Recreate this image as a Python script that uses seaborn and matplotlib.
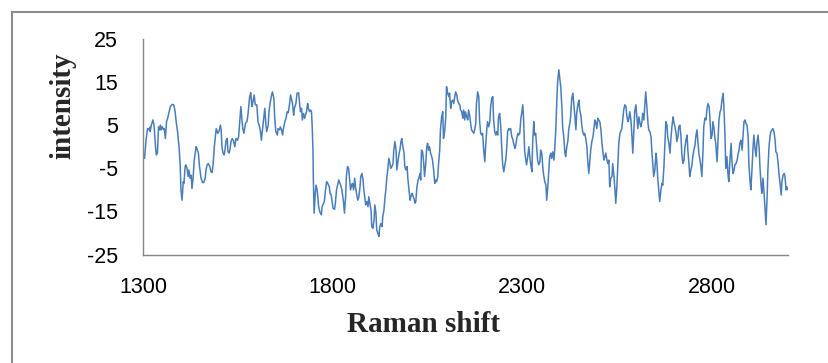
import matplotlib
matplotlib.use("Agg")
import matplotlib.pyplot as plt
import matplotlib.patches as patches
import seaborn as sns
import pandas as pd

# Raman spectrum, baseline-subtracted intensity vs. Raman shift (cm^-1)
shift_a = [1300, 1304, 1308, 1312, 1315, 1318, 1319, 1322, 1326, 1329,
           1333, 1335, 1338, 1341, 1344, 1346, 1348, 1351, 1354, 1356,
           1359, 1362, 1365, 1369, 1372, 1377, 1381, 1384, 1388, 1391,
           1395, 1398, 1400, 1403, 1406, 1408, 1411, 1413, 1416, 1419,
           1421, 1424, 1427, 1429, 1432, 1435, 1440, 1442, 1446, 1449,
           1453, 1457, 1460, 1464, 1466, 1469, 1472, 1476, 1479, 1482,
           1485, 1488, 1493, 1497, 1500, 1504, 1506, 1508, 1511, 1514,
           1516, 1519, 1522, 1524, 1527, 1529, 1532, 1535, 1538, 1542]
int_a = [-1.5, -2.7, 1.5, 4.2, 3.9, 4.5, 3.5, 5.0, 6.2, 5.0,
         0.0, -1.9, -1.5, 4.6, 3.9, 5.0, 3.9, 4.6, 4.0, 4.2,
         1.9, 5.8, 6.6, 8.1, 9.3, 9.8, 9.7, 8.5, 5.4, 3.5,
         0.0, -4.2, -10.0, -12.4, -8.1, -8.5, -4.6, -4.2, -5.0, -6.9,
         -5.4, -7.3, -6.6, -9.7, -7.3, -3.1, 0.0, -0.4, -1.5, -4.6,
         -7.3, -8.3, -8.3, -7.3, -5.4, -4.2, -3.9, -4.6, -5.8, -6.0,
         -3.9, 0.0, 4.2, 3.1, 3.5, 5.0, 3.9, 0.0, -1.5, -1.9,
         -0.8, 1.5, 1.9, -1.2, -1.5, -0.8, 1.2, 1.9, 1.5, 0.0]

shift_b = [1545, 1549, 1552, 1555, 1558, 1560, 1563, 1566, 1570, 1574,
           1577, 1581, 1584, 1587, 1589, 1593, 1596, 1600, 1603, 1606,
           1609, 1612, 1615, 1618, 1621, 1624, 1626, 1630, 1632, 1635,
           1638, 1641, 1645, 1647, 1650, 1654, 1656, 1660, 1662, 1665,
           1668, 1670, 1674, 1677, 1680, 1683, 1686, 1689, 1691, 1694,
           1697, 1699, 1703, 1706, 1710, 1712, 1715, 1718, 1720, 1723,
           1726, 1728, 1731, 1734, 1736, 1739, 1742, 1744, 1746, 1748,
           1749, 1751, 1754, 1756, 1759, 1763, 1766, 1770, 1772, 1776,
           1778, 1781, 1784, 1787]
int_b = [1.9, 1.5, 2.3, 5.8, 9.3, 6.9, 4.2, 3.1, 5.4, 5.8,
         7.7, 11.6, 12.5, 9.3, 10.0, 12.0, 9.7, 9.7, 5.8, 5.0,
         3.9, 1.5, 3.9, 6.2, 8.9, 5.0, 3.5, 5.0, 8.1, 10.0,
         11.6, 12.7, 11.2, 6.9, 3.5, 2.7, 4.2, 3.9, 4.6, 3.9,
         2.7, 4.2, 5.8, 6.6, 8.1, 7.9, 9.7, 12.0, 11.2, 10.0,
         7.3, 8.9, 10.0, 12.4, 12.5, 10.8, 8.1, 8.9, 6.2, 7.7,
         6.6, 7.3, 8.1, 10.0, 8.9, 8.1, 8.5, 8.1, 4.6, -0.8,
         -7.7, -15.4, -10.8, -8.9, -10.0, -13.9, -15.1, -15.8, -13.9, -13.1,
         -12.7, -10.0, -8.1, -8.5]

shift_c = [1791, 1793, 1796, 1799, 1801, 1805, 1807, 1810, 1814, 1816,
           1819, 1821, 1824, 1828, 1831, 1834, 1836, 1839, 1842, 1844,
           1847, 1850, 1852, 1855, 1858, 1860, 1863, 1866, 1869, 1872,
           1874, 1877, 1880, 1882, 1885, 1887, 1890, 1893, 1895, 1898,
           1901, 1903, 1906, 1909, 1911, 1914, 1916, 1919, 1922, 1924,
           1927, 1930, 1932, 1935, 1938, 1940, 1943, 1945, 1948, 1951,
           1953, 1956, 1959, 1961, 1964, 1967, 1969, 1972, 1975, 1977,
           1980, 1982, 1985, 1988, 1990, 1993, 1996, 1998, 2001, 2004,
           2006, 2009, 2011, 2014, 2017, 2019, 2022, 2025, 2027, 2030]
int_c = [-9.3, -10.8, -11.2, -13.1, -14.3, -14.5, -13.1, -10.0, -8.5, -7.7,
         -8.5, -8.9, -10.0, -12.4, -15.4, -11.6, -6.9, -4.6, -5.0, -6.9,
         -10.0, -8.9, -8.5, -10.0, -7.3, -9.3, -10.8, -12.4, -11.6, -9.3,
         -6.9, -6.2, -7.7, -10.0, -12.0, -13.5, -12.7, -13.9, -11.6, -13.1,
         -14.7, -18.5, -18.9, -17.0, -13.5, -15.4, -19.3, -20.1, -20.8, -18.5,
         -17.8, -18.5, -16.2, -14.7, -11.6, -10.0, -6.9, -5.4, -2.7, -3.9,
         -5.0, -4.6, -3.9, -0.8, 1.2, -0.8, -5.4, -3.5, -1.5, -0.8,
         1.2, 1.9, 0.0, -1.5, -4.6, -5.4, -4.6, -7.3, -10.0, -12.4,
         -11.6, -10.8, -11.2, -12.0, -13.1, -12.7, -9.3, -7.7, -7.3, -6.2]

shift_d = [2032, 2034, 2037, 2040, 2042, 2045, 2048, 2050, 2053, 2055,
           2058, 2061, 2063, 2066, 2069, 2071, 2074, 2077, 2079, 2082,
           2084, 2087, 2090, 2092, 2095, 2098, 2100, 2103, 2106, 2108,
           2111, 2113, 2116, 2119, 2121, 2124, 2127, 2129, 2132, 2135,
           2137, 2140, 2143, 2145, 2148, 2150, 2153, 2156, 2158, 2161,
           2164, 2166, 2169, 2172, 2174, 2177, 2179, 2182, 2185, 2187,
           2190, 2193, 2195, 2198, 2201, 2203, 2206, 2208, 2211, 2214,
           2216, 2219, 2222, 2224, 2227, 2230, 2232, 2235, 2237, 2240,
           2243, 2245, 2248, 2251, 2253, 2256, 2259, 2261, 2264, 2266,
           2269, 2272, 2274, 2277, 2280]
int_d = [-7.7, -0.8, -1.2, -3.9, -6.9, -4.2, 0.0, 0.8, -0.8, 0.0,
         -1.5, -2.3, -3.1, -5.4, -8.5, -7.7, -8.1, -6.9, -3.9, -0.8,
         3.9, 6.9, 8.1, 1.9, 3.5, 6.9, 13.9, 12.4, 11.6, 12.4,
         8.9, 10.4, 10.8, 10.0, 11.2, 12.7, 12.0, 10.8, 10.0, 9.7,
         8.5, 8.1, 6.6, 8.5, 6.2, 8.1, 6.9, 6.2, 8.5, 7.3,
         5.0, 3.9, 3.5, 3.1, 3.9, 5.4, 10.0, 12.7, 11.6, 6.2,
         3.1, 2.7, 3.1, -0.8, -3.5, 0.0, 3.9, 5.8, 4.6, 5.8,
         8.9, 11.2, 11.6, 6.2, 3.5, 2.7, 3.5, 2.7, 6.9, 7.7,
         4.6, 0.8, -4.2, -5.8, -4.6, -3.1, 0.0, 3.5, 4.2, 3.9,
         4.2, 2.3, 1.9, 0.8, -0.4]

shift_e = [2282, 2285, 2288, 2290, 2293, 2296, 2298, 2301, 2303, 2306,
           2309, 2311, 2314, 2317, 2319, 2322, 2325, 2327, 2330, 2332,
           2335, 2338, 2340, 2343, 2346, 2348, 2351, 2354, 2356, 2359,
           2362, 2364, 2367, 2369, 2372, 2375, 2377, 2380, 2383, 2385,
           2388, 2391, 2393, 2396, 2398, 2401, 2404, 2406, 2409, 2412,
           2414, 2417, 2420, 2422, 2425, 2427, 2430, 2433, 2435, 2438,
           2441, 2443, 2446, 2449, 2451, 2454, 2457, 2459, 2462, 2464,
           2467, 2470, 2472, 2475, 2478, 2480, 2483, 2486, 2488, 2491,
           2493, 2496, 2499, 2501, 2504, 2507, 2509, 2512, 2515, 2517,
           2520, 2522, 2525]
int_e = [0.0, 1.9, 3.1, 2.7, 3.1, 6.6, 7.7, 9.7, 6.6, -1.2,
         -3.1, -4.2, -2.3, 0.0, -1.9, -4.2, -5.8, 0.8, 5.8, 2.7,
         3.1, -0.8, -3.1, -4.2, -3.5, -0.8, -1.5, -5.0, -6.6, -8.1,
         -8.9, -12.4, -9.3, -6.2, -2.3, -1.5, -2.7, -1.2, -3.1, -0.8,
         3.9, 11.6, 15.1, 17.8, 16.2, 13.9, 9.3, 4.6, 2.3, -1.5,
         -2.3, 0.0, 1.5, 3.9, 5.4, 6.9, 11.2, 12.4, 10.4, 7.3,
         3.9, 7.7, 9.7, 10.8, 8.5, 7.3, 4.6, 3.5, 2.7, 3.1,
         1.9, 0.0, -3.1, -6.2, -3.1, -0.8, 1.2, 2.3, 3.9, 6.2,
         5.8, 4.2, 6.6, 6.2, 5.8, 3.9, 1.5, -1.2, -3.1, -2.3,
         -1.5, -2.7, -3.9]

shift_f = [2528, 2530, 2533, 2536, 2538, 2541, 2544, 2546, 2549, 2551,
           2554, 2557, 2559, 2562, 2565, 2567, 2570, 2573, 2575, 2578,
           2580, 2583, 2586, 2588, 2591, 2594, 2596, 2599, 2602, 2604,
           2607, 2610, 2612, 2615, 2617, 2620, 2623, 2625, 2628, 2631,
           2633, 2636, 2639, 2641, 2644, 2646, 2649, 2652, 2654, 2657,
           2660, 2662, 2665, 2668, 2670, 2673, 2676, 2678, 2681, 2683,
           2686, 2689, 2691, 2694, 2697, 2699, 2702, 2705, 2707, 2710,
           2712, 2715, 2718, 2720, 2723, 2726, 2728, 2731, 2734, 2736,
           2739, 2741, 2744, 2747, 2749, 2752, 2755, 2757, 2760, 2763,
           2765, 2768, 2770]
int_f = [-3.1, -9.3, -7.3, -6.9, -3.9, -6.6, -10.0, -13.1, -9.3, -5.4,
         0.8, 3.1, 3.5, 4.2, 6.9, 8.5, 9.7, 9.3, 7.3, 5.8,
         6.2, 8.1, 6.2, 3.5, -1.5, 4.2, 8.1, 9.7, 6.6, 4.2,
         6.9, 5.4, 4.6, 5.8, 7.7, 6.2, 10.0, 12.7, 9.3, 5.4,
         3.9, 3.5, 2.3, -0.8, -4.6, -6.9, -5.4, -1.5, -3.1, -7.7,
         -10.8, -12.7, -10.0, -8.5, -8.9, -4.6, 1.5, 5.8, 5.0, 2.3,
         0.8, -1.5, 1.5, 4.6, 6.9, 5.8, 4.6, 3.1, 1.2, 2.3,
         4.6, 5.0, 2.3, -1.5, -3.9, -3.1, -0.4, 1.5, 2.7, -0.8,
         -3.9, -6.9, -5.4, -4.2, -2.3, -0.8, 0.4, 2.3, 3.9, 0.8,
         -1.5, -3.1, -4.2]

shift_g = [2773, 2776, 2778, 2781, 2784, 2786, 2789, 2792, 2794, 2797,
           2800, 2802, 2805, 2807, 2810, 2813, 2815, 2818, 2821, 2823,
           2826, 2829, 2831, 2834, 2836, 2839, 2842, 2844, 2847, 2850,
           2852, 2855, 2858, 2860, 2863, 2866, 2868, 2871, 2873, 2876,
           2879, 2881, 2884, 2887, 2889, 2892, 2895, 2897, 2900, 2902,
           2905, 2908, 2910, 2913, 2916, 2918, 2921, 2924, 2926, 2929,
           2931, 2934, 2937, 2939, 2942, 2945, 2947, 2950, 2953, 2955,
           2958, 2960, 2963, 2966, 2968, 2971, 2974, 2976, 2979, 2982,
           2984, 2987, 2990, 2992, 2995, 2997, 3000]
int_g = [-6.9, -0.8, 4.6, 6.6, 6.2, 8.5, 10.0, 9.3, 6.9, 1.9,
         2.7, 5.8, 4.2, 2.3, 0.4, -3.5, 0.4, 6.2, 8.1, 8.5,
         10.8, 12.4, 9.3, 2.3, -5.0, -2.3, -6.6, -8.1, -3.1, 0.8,
         -3.1, -6.2, -5.4, -4.2, -3.9, -3.1, -1.9, -0.8, 0.8, 1.5,
         -0.8, 1.9, 5.8, 6.2, 5.4, 5.0, 2.3, -4.2, -8.1, -10.0,
         -5.4, 0.0, 2.7, -0.4, -2.3, 0.8, 2.7, -0.4, -4.6, -8.9,
         -10.8, -7.3, -10.8, -13.9, -18.1, -11.6, -5.4, 0.0, 2.7, 3.5,
         3.9, 4.2, 3.5, 1.5, -1.2, -1.5, -3.9, -6.2, -8.5, -11.2,
         -8.1, -6.6, -6.2, -6.9, -10.0, -9.3, -10.0]

x_ticks = list(range(1300, 3001, 100))
x_labels = ["1300", "1800", "2300", "2800"]
y_ticks = list(range(-25, 26, 5))
y_labels = ["-25", "-15", "-5", "5", "15", "25"]

spectrum = pd.DataFrame({
    "shift": shift_a + shift_b + shift_c + shift_d + shift_e + shift_f + shift_g,
    "intensity": int_a + int_b + int_c + int_d + int_e + int_f + int_g,
})

sns.set_style("white")
plt.rcParams["font.family"] = ["Liberation Sans", "DejaVu Sans"]

W, H = 829, 363
fig = plt.figure(figsize=(W / 100, H / 100), dpi=100)
ax = fig.add_axes([143 / W, 1 - 254.6 / H, (788 - 143) / W, (254.6 - 38.8) / H])

sns.lineplot(data=spectrum, x="shift", y="intensity", ax=ax, color="#4A7EBB",
             linewidth=1.1, estimator=None, sort=False)

ax.set_xlim(1300, 3000)
ax.set_ylim(-25, 25)
ax.set_xticks(x_ticks)
ax.set_xticklabels([str(t) if str(t) in x_labels else "" for t in x_ticks])
ax.set_yticks(y_ticks)
ax.set_yticklabels([str(t) if str(t) in y_labels else "" for t in y_ticks])

axis_grey = "#868686"
for side in ("top", "right"):
    ax.spines[side].set_visible(False)
for side in ("left", "bottom"):
    ax.spines[side].set_color(axis_grey)
    ax.spines[side].set_linewidth(1.0)
ax.tick_params(axis="both", direction="out", length=5, width=1.0, color=axis_grey,
               labelsize=15.5, labelcolor="black")
ax.tick_params(axis="x", pad=11)
ax.tick_params(axis="y", pad=13)
ax.set_xlabel("")
ax.set_ylabel("")

serif = ["Liberation Serif", "DejaVu Serif"]
fig.text(424 / W, 1 - 325 / H, "Raman shift", ha="center", va="center",
         fontsize=21, fontweight="bold", family=serif)
fig.text(63 / W, 1 - 106 / H, "intensity", ha="center", va="center", rotation=90,
         fontsize=21, fontweight="bold", family=serif)

# chart-area frame
fig.patches.append(patches.Rectangle((12.5 / W, -0.2), 1.2, 1.2 - 12.3 / H,
                                     transform=fig.transFigure, fill=False,
                                     edgecolor="#8C8C8C", linewidth=1.5))

fig.savefig("out.png", dpi=100, facecolor="white")
